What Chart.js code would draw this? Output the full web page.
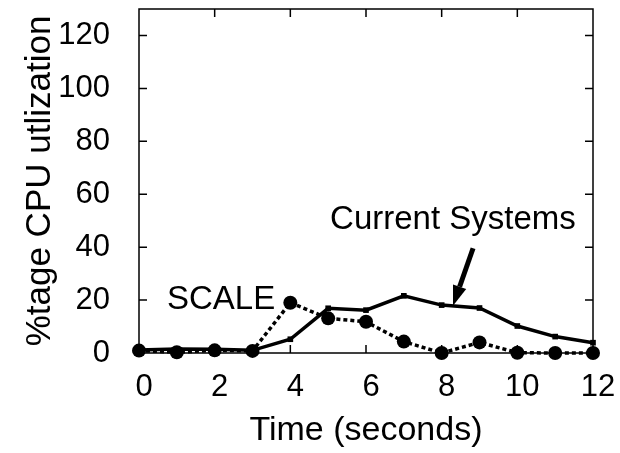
<!DOCTYPE html>
<html>
<head>
<meta charset="utf-8">
<script src="https://cdn.jsdelivr.net/npm/chart.js@4"></script>
<style>
  html, body { margin: 0; padding: 0; background: #fff; }
  #wrap { width: 620px; height: 453px; }
</style>
</head>
<body>
<div id="wrap"><canvas id="chart" width="620" height="453"></canvas></div>
<script>
const seconds = [0, 1, 2, 3, 4, 5, 6, 7, 8, 9, 10, 11, 12];
const currentSystems = [1.1, 1.5, 1.4, 1.0, 5.2, 16.9, 16.2, 21.6, 18.1, 17.0, 10.2, 6.2, 3.9];
const scale = [0.9, 0.3, 1.0, 0.8, 19.0, 13.1, 11.8, 4.3, 0.0, 4.0, 0.1, 0.0, 0.0];
const yTicks = [0, 20, 40, 60, 80, 100, 120];
const xTicks = [0, 2, 4, 6, 8, 10, 12];

const FONT = 'Liberation Sans, Arial, sans-serif';

// frame, inward ticks and the two labels with the arrow
const decor = {
  id: 'decor',
  afterDraw(chart) {
    const ctx = chart.ctx;
    const a = chart.chartArea;
    const xs = chart.scales.x, ys = chart.scales.y;
    ctx.save();
    ctx.strokeStyle = '#000';
    ctx.lineWidth = 1.5;
    ctx.strokeRect(a.left, a.top, a.right - a.left, a.bottom - a.top);
    ctx.beginPath();
    xTicks.slice(1, -1).forEach(v => {
      const px = xs.getPixelForValue(v);
      ctx.moveTo(px, a.bottom); ctx.lineTo(px, a.bottom - 8);
      ctx.moveTo(px, a.top); ctx.lineTo(px, a.top + 8);
    });
    yTicks.slice(1).forEach(v => {
      const py = ys.getPixelForValue(v);
      ctx.moveTo(a.left, py); ctx.lineTo(a.left + 8, py);
      ctx.moveTo(a.right, py); ctx.lineTo(a.right - 8, py);
    });
    ctx.stroke();

    ctx.fillStyle = '#000';
    ctx.font = '33px ' + FONT;
    ctx.textBaseline = 'middle';
    ctx.textAlign = 'left';
    ctx.fillText('SCALE', xs.getPixelForValue(0.74), ys.getPixelForValue(20));
    ctx.fillText('Current Systems', xs.getPixelForValue(5.05), ys.getPixelForValue(50.2));

    // arrow
    const x0 = xs.getPixelForValue(8.83), y0 = ys.getPixelForValue(39.6);
    const x1 = xs.getPixelForValue(8.3), y1 = ys.getPixelForValue(17.9);
    const ang = Math.atan2(y1 - y0, x1 - x0);
    const head = 20, hw = 7;
    const bx = x1 - head * Math.cos(ang), by = y1 - head * Math.sin(ang);
    ctx.lineWidth = 5;
    ctx.beginPath();
    ctx.moveTo(x0, y0); ctx.lineTo(bx, by);
    ctx.stroke();
    ctx.beginPath();
    ctx.moveTo(x1, y1);
    ctx.lineTo(bx + hw * Math.sin(ang), by - hw * Math.cos(ang));
    ctx.lineTo(bx - hw * Math.sin(ang), by + hw * Math.cos(ang));
    ctx.closePath();
    ctx.fill();
    ctx.restore();
  }
};

new Chart(document.getElementById('chart').getContext('2d'), {
  type: 'line',
  data: {
    datasets: [
      {
        label: 'SCALE',
        data: seconds.map((s, i) => ({x: s, y: scale[i]})),
        borderColor: '#000',
        backgroundColor: '#000',
        borderWidth: 3.5,
        borderDash: [4, 3],
        pointStyle: 'circle',
        pointRadius: 7,
        pointBorderWidth: 0,
        clip: false
      },
      {
        label: 'Current Systems',
        data: seconds.map((s, i) => ({x: s, y: currentSystems[i]})),
        borderColor: '#000',
        backgroundColor: '#000',
        borderWidth: 3.5,
        pointStyle: 'rect',
        pointRadius: 4,
        pointBorderWidth: 0,
        clip: false
      }
    ]
  },
  options: {
    responsive: false,
    animation: false,
    layout: { padding: { top: 9, right: 27, left: 0, bottom: 0 } },
    plugins: { legend: { display: false }, tooltip: { enabled: false } },
    scales: {
      x: {
        type: 'linear',
        min: 0,
        max: 12,
        afterBuildTicks: s => { s.ticks = xTicks.map(v => ({value: v})); },
        afterFit: s => { s.height = 100; s.paddingLeft = 0; s.paddingRight = 0; },
        grid: { display: false },
        border: { display: false },
        ticks: { color: '#000', font: { family: FONT, size: 31 }, padding: 8, labelOffset: 5, maxRotation: 0 },
        title: { display: true, text: 'Time (seconds)', color: '#000', font: { family: FONT, size: 34 }, padding: { top: 0, bottom: 2 } }
      },
      y: {
        min: 0,
        max: 130,
        afterBuildTicks: s => { s.ticks = yTicks.map(v => ({value: v})); },
        afterFit: s => { s.width = 139; s.paddingTop = 0; s.paddingBottom = 0; },
        grid: { display: false },
        border: { display: false },
        ticks: { color: '#000', font: { family: FONT, size: 31 }, padding: 21 },
        title: { display: true, text: '%tage CPU utlization', color: '#000', font: { family: FONT, size: 35 }, padding: { top: 19, bottom: 0 } }
      }
    }
  },
  plugins: [decor]
});
</script>
</body>
</html>
